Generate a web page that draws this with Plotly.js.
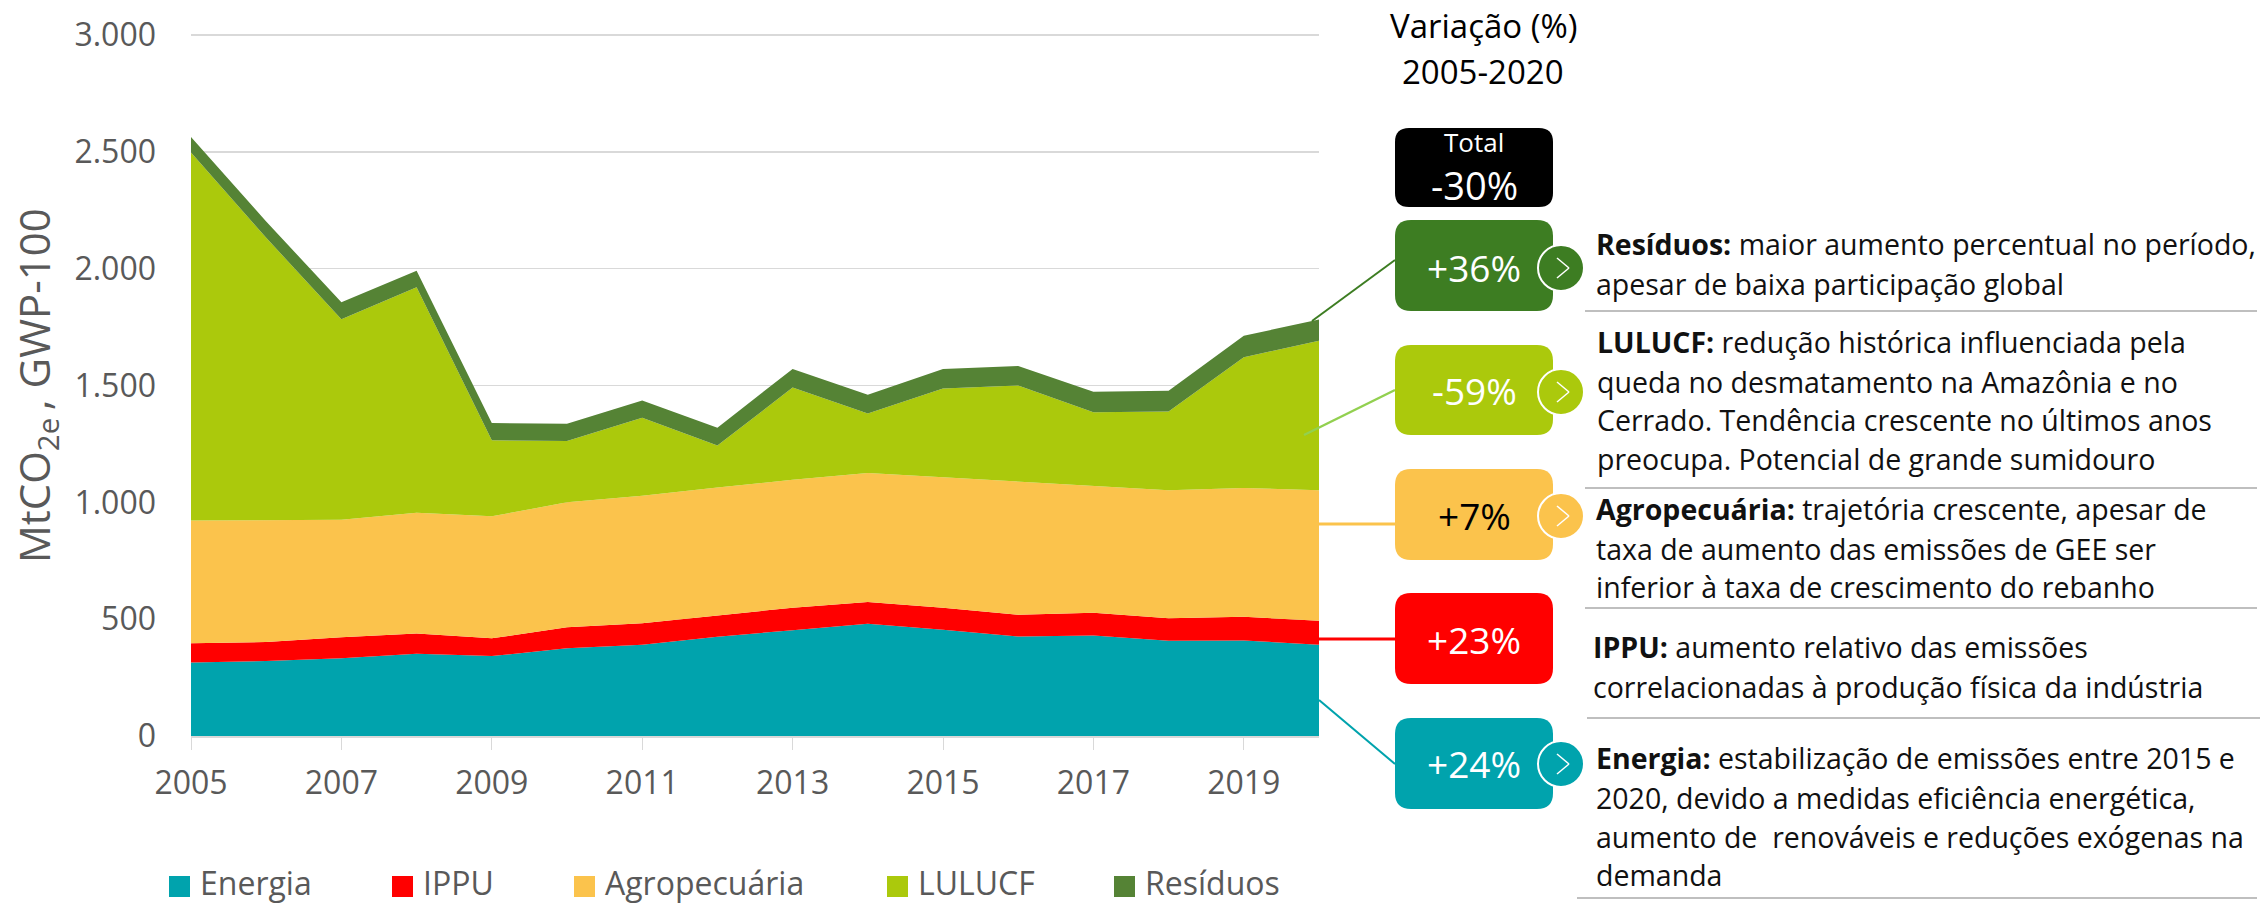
<!DOCTYPE html>
<html><head><meta charset="utf-8">
<script src="https://cdn.plot.ly/plotly-3.0.1.min.js"></script>
<style>html,body{margin:0;padding:0;background:#fff}</style></head>
<body><div id="chart" style="width:2264px;height:904px"></div>
<script>
const years=[2005,2006,2007,2008,2009,2010,2011,2012,2013,2014,2015,2016,2017,2018,2019,2020];
const energia=[315,321,333,352,342,376,390,425,453,480,455,426,430,408,409,391];
const ippu=[82,81,90,87,76,89,93,92,96,93,94,93,97,96,101,102];
const agropecuaria=[525,521,503,516,522,535,545,546,548,553,559,571,546,548,551,559];
const lulucf=[1575,1209,858,966,326,262,334,180,394,254,379,410,313,337,560,640];
const residuos=[67,70,72,70,73,74,74,76,80,80,84,84,87,89,92,90];
const seriesNames=['Energia','IPPU','Agropecuária','LULUCF','Resíduos'];
const seriesColors=['#00A3AD','#FF0000','#FBC34C','#ABC90C','#558335'];
const FONT='"Open Sans", sans-serif', GREY='#595959';
const L=191,R=1319,T=33,B=736;
const px=x=>(x-L)/(R-L), py=y=>(B-y)/(B-T);
const shapes=[], annotations=[];
function txt(x,y,text,size,color,anchor,family,angle){annotations.push({xref:'paper',yref:'paper',x:px(x),y:py(y),text,showarrow:false,xanchor:anchor||'left',yanchor:'middle',textangle:angle||0,borderpad:0,borderwidth:0,font:{family:family||FONT,size,color}});}
function line(x0,y0,x1,y1,color,width,layer){shapes.push({type:'line',xref:'paper',yref:'paper',x0:px(x0),y0:py(y0),x1:px(x1),y1:py(y1),line:{color,width},layer:layer||'above'});}
function rbox(x0,y0,x1,y1,r,fill){const f=(x,y)=>px(x)+','+py(y);
 shapes.push({type:'path',xref:'paper',yref:'paper',fillcolor:fill,line:{width:0},layer:'above',
 path:'M'+f(x0+r,y0)+' L'+f(x1-r,y0)+' Q'+f(x1,y0)+' '+f(x1,y0+r)+' L'+f(x1,y1-r)+' Q'+f(x1,y1)+' '+f(x1-r,y1)+' L'+f(x0+r,y1)+' Q'+f(x0,y1)+' '+f(x0,y1-r)+' L'+f(x0,y0+r)+' Q'+f(x0,y0)+' '+f(x0+r,y0)+' Z'});}
function badge(cy,fill){shapes.push({type:'circle',xref:'paper',yref:'paper',x0:px(1561-23),x1:px(1561+23),y0:py(cy+23),y1:py(cy-23),fillcolor:fill,line:{color:'#fff',width:2},layer:'above'});
 line(1557,cy-10,1569,cy,'#fff',1.5);line(1569,cy,1557,cy+10,'#fff',1.5);}
// connectors
line(1312,321,1395,260,'#3D7D22',2);
line(1304,435,1395,390,'#92D050',2.5);
line(1319,524,1395,524,'#FBC34C',3);
line(1319,639,1395,639,'#FF0000',3);
line(1319,700,1395,764,'#00A3AD',2);
// boxes
rbox(1395,128,1553,207,14,'#000000');
rbox(1395,220,1553,311,16,'#3D7D22');
rbox(1395,345,1553,435,16,'#ABC90C');
rbox(1395,469,1553,560,16,'#FBC34C');
rbox(1395,593,1553,684,16,'#FF0000');
rbox(1395,718,1553,809,16,'#00A3AD');
badge(268,'#3D7D22');badge(392,'#ABC90C');badge(516,'#FBC34C');badge(764,'#00A3AD');
txt(1483,26,'Variação (%)',33,'#000','center');
txt(1483,71,'2005-2020',33,'#000','center');
txt(1474,142,'Total',26,'#fff','center');
txt(1474,185,'-30%',38,'#fff','center');
txt(1474,267,'+36%',37,'#fff','center');
txt(1474,390,'-59%',37,'#fff','center');
txt(1474,515,'+7%',37,'#000','center');
txt(1474,639,'+23%',37,'#fff','center');
txt(1474,763,'+24%',37,'#fff','center');
// axis title
txt(36,386,'MtCO<sub>2e </sub>, GWP-100',42,GREY,'center',FONT,-90);
// side notes
const BODY='"Open Sans", sans-serif', BS=28.5, TC='#111111';
const notes=[
[1596,244,'<b>Resíduos:</b> maior aumento percentual no período,'],
[1596,284,'apesar de baixa participação global'],
[1597,342,'<b>LULUCF:</b> redução histórica influenciada pela'],
[1597,382,'queda no desmatamento na Amazônia e no'],
[1597,420,'Cerrado. Tendência crescente no últimos anos'],
[1597,459,'preocupa. Potencial de grande sumidouro'],
[1596,509,'<b>Agropecuária:</b> trajetória crescente, apesar de'],
[1596,549,'taxa de aumento das emissões de GEE ser'],
[1596,587,'inferior à taxa de crescimento do rebanho'],
[1593,647,'<b>IPPU:</b> aumento relativo das emissões'],
[1593,687,'correlacionadas à produção física da indústria'],
[1596,758,'<b>Energia:</b> estabilização de emissões entre 2015 e'],
[1596,798,'2020, devido a medidas eficiência energética,'],
[1596,837,'aumento de  renováveis e reduções exógenas na'],
[1596,875,'demanda']];
notes.forEach(n=>txt(n[0],n[1],n[2],BS,TC,'left',BODY));
[[1585,311,2257],[1585,488,2257],[1585,608,2257],[1587,718,2260],[1577,898,2257]].forEach(s=>line(s[0],s[1],s[2],s[1],'#BFBFBF',2));
// legend
const legendX=[169,392,574,887,1114];
seriesNames.forEach((n,i)=>{shapes.push({type:'rect',xref:'paper',yref:'paper',x0:px(legendX[i]),x1:px(legendX[i]+21),y0:py(897),y1:py(876),fillcolor:seriesColors[i],line:{width:0},layer:'above'});
 txt(legendX[i]+31,882,n,32,GREY,'left');});
const values=[energia,ippu,agropecuaria,lulucf,residuos];
const traces=seriesNames.map((n,i)=>({type:'scatter',mode:'lines',name:n,x:years,y:values[i],stackgroup:'one',line:{width:0,color:seriesColors[i]},fillcolor:seriesColors[i]}));
Plotly.newPlot('chart',traces,{
 width:2264,height:904,showlegend:false,separators:',.',
 paper_bgcolor:'#fff',plot_bgcolor:'#fff',
 margin:{l:L,r:2264-R,t:T,b:904-B,pad:0},
 font:{family:FONT,color:GREY},
 xaxis:{range:[2005,2020],tick0:2005,dtick:2,ticks:'outside',ticklen:12,tickcolor:'#D9D9D9',tickwidth:1,showgrid:false,zeroline:false,showline:true,linecolor:'#D9D9D9',linewidth:2,tickfont:{size:32,color:GREY},ticklabelstandoff:6},
 yaxis:{range:[0,3008.6],tickvals:[0,500,1000,1500,2000,2500,3000],tickformat:',d',gridcolor:'#D9D9D9',gridwidth:1.5,zeroline:false,showline:false,tickfont:{size:32,color:GREY},ticklabelstandoff:34,automargin:false},
 shapes,annotations
},{staticPlot:true,displayModeBar:false});
</script></body></html>
